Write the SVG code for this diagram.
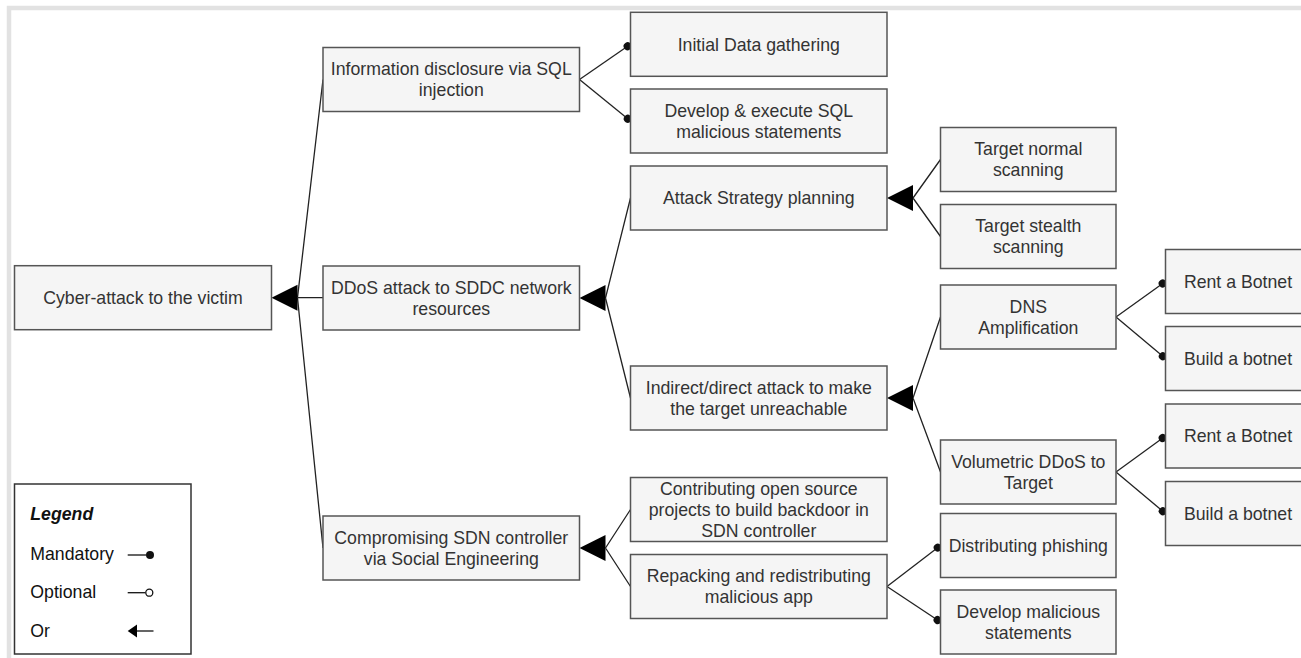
<svg xmlns="http://www.w3.org/2000/svg" xmlns:xlink="http://www.w3.org/1999/xlink" width="1301" height="658" viewBox="0 0 1301 658">
<style>
.box{fill:#f5f5f5;stroke:#555;stroke-width:1.5}
.t{font-family:"Liberation Sans",Arial,sans-serif;font-size:17.7px;fill:#333;text-anchor:middle}
.lt{font-family:"Liberation Sans",Arial,sans-serif;font-size:17.7px;fill:#111}
.ln{fill:none;stroke:#222;stroke-width:1.3}
.man{fill:none;stroke:#222;stroke-width:1.3;marker-end:url(#dot)}
</style>
<defs>
<marker id="dot" viewBox="-5 -5 10 10" markerWidth="10" markerHeight="10" refX="3.5" refY="0" orient="auto" markerUnits="userSpaceOnUse">
<circle cx="0" cy="0" r="4" fill="#111"/>
</marker>
<polygon id="orTri" points="0,0 26,-13 26,13" fill="#000"/>
</defs>
<rect width="1301" height="658" fill="#fff"/>
<path d="M9,658 V8 H1301" fill="none" stroke="#e2e2e2" stroke-width="4.5"/>

<g id="connectors">
<path class="ln" d="M323,79.5 L297.5,297.7 M323,297.7 H297.5 M323,548 L297.5,297.7"/>
<use xlink:href="#orTri" x="271.5" y="297.7"/>
<path class="ln" d="M630.5,198 L605.5,298 M630.5,398 L605.5,298"/>
<use xlink:href="#orTri" x="579.5" y="298"/>
<path class="ln" d="M940.5,159.5 L913,198 M940.5,236.5 L913,198"/>
<use xlink:href="#orTri" x="887" y="198"/>
<path class="ln" d="M940.5,317 L913,398 M940.5,472 L913,398"/>
<use xlink:href="#orTri" x="887" y="398"/>
<path class="ln" d="M630.5,509.5 L605.5,548 M630.5,586.5 L605.5,548"/>
<use xlink:href="#orTri" x="579.5" y="548"/>
<path class="man" d="M579.5,79.5 L630.5,44.3"/>
<path class="man" d="M579.5,79.5 L630.5,121"/>
<path class="man" d="M1116,317 L1165.5,281.5"/>
<path class="man" d="M1116,317 L1165.5,358.5"/>
<path class="man" d="M1116,472 L1165.5,436"/>
<path class="man" d="M1116,472 L1165.5,513.5"/>
<path class="man" d="M887,586.5 L940.5,545.5"/>
<path class="man" d="M887,586.5 L940.5,622"/>
</g>

<g id="n-cyber"><rect class="box" x="14.5" y="265.7" width="257" height="64"/><text class="t" x="143" y="304">Cyber-attack to the victim</text></g>

<g id="n-info"><rect class="box" x="323" y="47.5" width="256.5" height="64"/><text class="t" x="451.3" y="75.4">Information disclosure via SQL</text><text class="t" x="451.3" y="96.4">injection</text></g>
<g id="n-ddos"><rect class="box" x="323" y="266" width="256.5" height="64"/><text class="t" x="451.3" y="293.7">DDoS attack to SDDC network</text><text class="t" x="451.3" y="314.7">resources</text></g>
<g id="n-sdn"><rect class="box" x="323" y="516" width="256.5" height="64"/><text class="t" x="451.3" y="543.7">Compromising SDN controller</text><text class="t" x="451.3" y="564.7">via Social Engineering</text></g>

<g id="n-initial"><rect class="box" x="630.5" y="12.3" width="256.5" height="64"/><text class="t" x="758.8" y="50.5">Initial Data gathering</text></g>
<g id="n-devsql"><rect class="box" x="630.5" y="89" width="256.5" height="64"/><text class="t" x="758.8" y="116.5">Develop &amp; execute SQL</text><text class="t" x="758.8" y="138">malicious statements</text></g>
<g id="n-attack"><rect class="box" x="630.5" y="166" width="256.5" height="64"/><text class="t" x="758.8" y="204.2">Attack Strategy planning</text></g>
<g id="n-indirect"><rect class="box" x="630.5" y="366" width="256.5" height="64"/><text class="t" x="758.8" y="393.7">Indirect/direct attack to make</text><text class="t" x="758.8" y="414.7">the target unreachable</text></g>
<g id="n-contrib"><rect class="box" x="630.5" y="477.5" width="256.5" height="64"/><text class="t" x="758.8" y="494.5">Contributing open source</text><text class="t" x="758.8" y="515.5">projects to build backdoor in</text><text class="t" x="758.8" y="536.5">SDN controller</text></g>
<g id="n-repack"><rect class="box" x="630.5" y="554.5" width="256.5" height="64"/><text class="t" x="758.8" y="582.2">Repacking and redistributing</text><text class="t" x="758.8" y="603.2">malicious app</text></g>

<g id="n-tnormal"><rect class="box" x="940.5" y="127.5" width="175.5" height="64"/><text class="t" x="1028.3" y="155.2">Target normal</text><text class="t" x="1028.3" y="176.2">scanning</text></g>
<g id="n-tstealth"><rect class="box" x="940.5" y="204.5" width="175.5" height="64"/><text class="t" x="1028.3" y="232.2">Target stealth</text><text class="t" x="1028.3" y="253.2">scanning</text></g>
<g id="n-dns"><rect class="box" x="940.5" y="285" width="175.5" height="64"/><text class="t" x="1028.3" y="312.7">DNS</text><text class="t" x="1028.3" y="333.7">Amplification</text></g>
<g id="n-vol"><rect class="box" x="940.5" y="440" width="175.5" height="64"/><text class="t" x="1028.3" y="467.7">Volumetric DDoS to</text><text class="t" x="1028.3" y="488.7">Target</text></g>
<g id="n-phish"><rect class="box" x="940.5" y="513.5" width="175.5" height="64"/><text class="t" x="1028.3" y="551.7">Distributing phishing</text></g>
<g id="n-devmal"><rect class="box" x="940.5" y="590" width="175.5" height="64"/><text class="t" x="1028.3" y="617.7">Develop malicious</text><text class="t" x="1028.3" y="638.7">statements</text></g>

<g id="n-rent1"><rect class="box" x="1165.5" y="249.5" width="146" height="64"/><text class="t" x="1238" y="287.7">Rent a Botnet</text></g>
<g id="n-build1"><rect class="box" x="1165.5" y="326.5" width="146" height="64"/><text class="t" x="1238" y="364.7">Build a botnet</text></g>
<g id="n-rent2"><rect class="box" x="1165.5" y="404" width="146" height="64"/><text class="t" x="1238" y="442.2">Rent a Botnet</text></g>
<g id="n-build2"><rect class="box" x="1165.5" y="481.5" width="146" height="64"/><text class="t" x="1238" y="519.7">Build a botnet</text></g>

<g id="legend">
<rect x="14.5" y="484" width="176.5" height="170" fill="#fff" stroke="#333" stroke-width="1.5"/>
<text class="lt" x="30.3" y="520" font-weight="bold" font-style="italic">Legend</text>
<text class="lt" x="30.3" y="560">Mandatory</text>
<text class="lt" x="30.3" y="598.3">Optional</text>
<text class="lt" x="30.3" y="636.7">Or</text>
<line x1="127.7" y1="555" x2="146" y2="555" stroke="#111" stroke-width="1.3"/>
<circle cx="150" cy="555" r="4" fill="#111"/>
<line x1="127.7" y1="592.7" x2="145.5" y2="592.7" stroke="#111" stroke-width="1.3"/>
<circle cx="149.3" cy="592.7" r="3.5" fill="#fff" stroke="#111" stroke-width="1.3"/>
<polygon points="127.7,631 137,624.5 137,637.5" fill="#000"/>
<line x1="137" y1="631" x2="153.5" y2="631" stroke="#111" stroke-width="1.3"/>
</g>
</svg>
